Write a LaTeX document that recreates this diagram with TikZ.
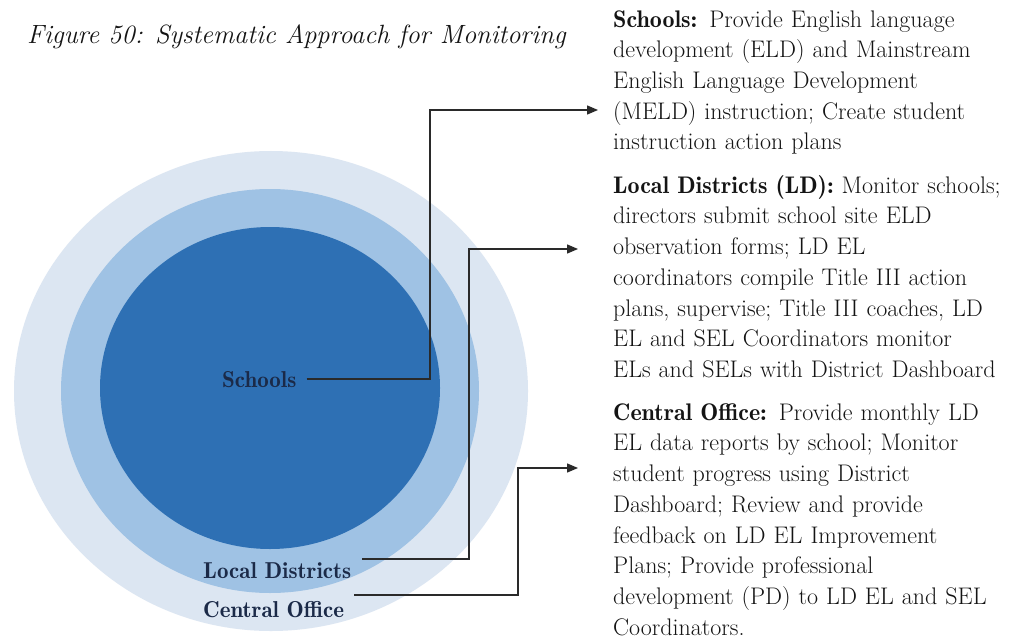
\documentclass[tikz,border=0pt]{standalone}
\usepackage{fontspec}
\newfontfamily\demifont{lmromandemi10-regular}[Extension=.otf]
\usetikzlibrary{arrows.meta}
\definecolor{outerc}{HTML}{DCE6F2}
\definecolor{midc}{HTML}{9FC2E4}
\definecolor{innerc}{HTML}{2E70B4}
\definecolor{labelc}{HTML}{1B2A48}
\definecolor{textc}{HTML}{141414}
\definecolor{linec}{HTML}{2A2A2A}
\newcommand{\hd}[1]{{\demifont #1}}
\begin{document}
\begin{tikzpicture}[x=1pt,y=-1pt,
  conn/.style={draw=linec, line width=1.3pt, -{Triangle[length=11pt,width=9pt]}},
  lbl/.style={font=\fontsize{23}{25}\selectfont\demifont, text=labelc, inner sep=0pt, anchor=base west},
  desc/.style={font=\fontsize{24}{30.7}\selectfont, text=textc, inner sep=0pt, anchor=north west, text width=420pt, align=left},
  ttl/.style={font=\fontsize{26.4}{30}\selectfont\itshape, text=textc, inner sep=0pt, anchor=base west}]
\useasboundingbox (0,0) rectangle (1016,639);
\fill[white] (0,0) rectangle (1016,639);
% rings
\fill[outerc] (271,391) ellipse [x radius=257, y radius=240];
\fill[midc] (270,391) ellipse [x radius=209, y radius=202];
\fill[innerc] (270,388) ellipse [x radius=170, y radius=161];
% title
\node[ttl] (title) at (27,44) {Figure 50: Systematic Approach for Monitoring};
% labels
\node[lbl] (lblS) at (222,387) {Schools};
\node[lbl] (lblLD) at (203,578) {Local Districts};
\node[lbl] (lblCO) at (203,617) {Central Office};
% description blocks
\node[desc] (dS) at (613,9) {\rule{0pt}{18pt}\hd{Schools:} Provide English language\\
development (ELD) and Mainstream\\
English Language Development\\
(MELD) instruction; Create student\\
instruction action plans};
\node[desc] (dLD) at (613,175) {\rule{0pt}{18pt}\hd{Local Districts (LD):} Monitor schools;\\
directors submit school site ELD\\
observation forms; LD EL\\
coordinators compile Title III action\\
plans, supervise; Title III coaches, LD\\
EL and SEL Coordinators monitor\\
ELs and SELs with District Dashboard};
\node[desc] (dCO) at (613,402) {\rule{0pt}{18pt}\hd{Central Office:} Provide monthly LD\\
EL data reports by school; Monitor\\
student progress using District\\
Dashboard; Review and provide\\
feedback on LD EL Improvement\\
Plans; Provide professional\\
development (PD) to LD EL and SEL\\
Coordinators.};
% connector points
\coordinate (kS) at (430,110);
\coordinate (aS) at (598,110);
\coordinate (kLD) at (469,249);
\coordinate (aLD) at (578,249);
\coordinate (kCO) at (518,468);
\coordinate (aCO) at (578,468);
% connectors
\draw[conn] ([xshift=10pt]lblS.east) -| (kS) -- (aS);
\draw[conn] ([xshift=11pt,yshift=11pt]lblLD.east) -| (kLD) -- (aLD);
\draw[conn] ([xshift=10pt,yshift=14pt]lblCO.east) -| (kCO) -- (aCO);
\end{tikzpicture}
\end{document}
